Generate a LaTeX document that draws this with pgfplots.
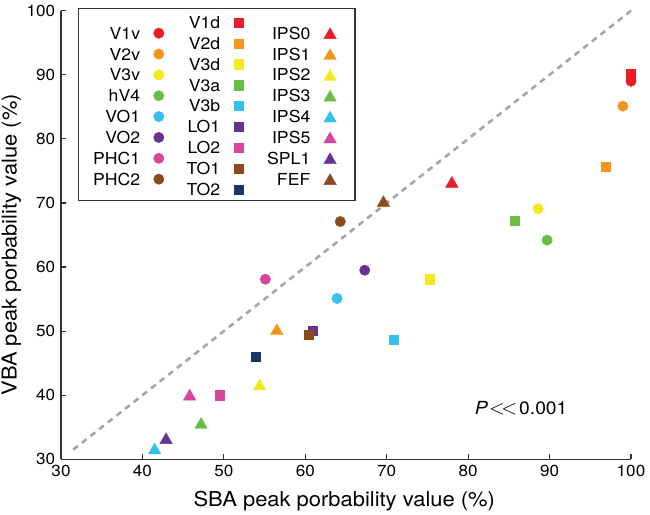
\documentclass[border=0pt]{standalone}
\usepackage{fontspec}
\setmainfont{TeX Gyre Heros}[FakeStretch=1.07]
\usepackage{pgfplots}
\pgfplotsset{compat=1.18}
\definecolor{cRed}{HTML}{EC1C24}
\definecolor{cOrange}{HTML}{F7941D}
\definecolor{cYellow}{HTML}{F2EA1F}
\definecolor{cGreen}{HTML}{6CBD45}
\definecolor{cCyan}{HTML}{33C1EE}
\definecolor{cPurple}{HTML}{673292}
\definecolor{cPink}{HTML}{D7469C}
\definecolor{cBrown}{HTML}{8B4A1C}
\definecolor{cNavy}{HTML}{1B3767}
\definecolor{cGrayLine}{HTML}{A6A6A6}
\definecolor{cAxis}{HTML}{333333}
\pgfplotsset{
  base/.style={scale only axis, width=570pt, height=448.6pt,
    xmin=30, xmax=100, ymin=30, ymax=100, clip=false,
    at={(0,0)}, anchor=south west},
  leg/.style={legend plot pos=right, legend cell align=right,
    legend style={draw=none, fill=none, inner sep=0pt, outer sep=0pt,
      font=\fontsize{16.5}{16.5}\selectfont, row sep=8.85pt, column sep=13.5pt,
      nodes={inner sep=0pt, outer sep=0pt, text height=12pt, text depth=0pt}}},
  circ/.style={only marks, mark=*, mark size=5.2pt, color=#1, mark options={draw=none, fill=#1}},
  sq/.style={only marks, mark=square*, mark size=4.6pt, color=#1, mark options={draw=none, fill=#1}},
  tri/.style={only marks, mark=triangle*, mark size=7.2pt, color=#1, mark options={draw=none, fill=#1}},
}
\begin{document}
\begin{tikzpicture}
\begin{axis}[base, name=ax, leg,
  axis lines*=left,
  axis line style={cAxis, line width=1.2pt},
  tick align=inside, major tick length=5pt,
  tick style={cAxis, line width=1.2pt},
  xtick={30,40,...,100}, ytick={30,40,...,100},
  /pgf/number format/assume math mode=true,
  xticklabel style={font=\fontsize{16}{16}\selectfont, yshift=-2pt},
  yticklabel style={font=\fontsize{16}{16}\selectfont, xshift=-2.4pt},
  xlabel={SBA peak porbability value (\%)},
  ylabel={VBA peak porbability value (\%)},
  xlabel style={font=\fontsize{20.5}{20.5}\selectfont, at={(axis description cs:0.497,0)}, anchor=base, yshift=-47.4pt},
  ylabel style={font=\fontsize{20.5}{20.5}\selectfont, at={(axis description cs:-0.0777,0.478)}, anchor=base},
  legend style={at={(rel axis cs:0.1807,0.9632)}, anchor=north east},
  legend image code/.code={\draw[#1] plot coordinates {(0pt,0pt)};},
]
\addplot[cGrayLine, line width=2.6pt, dash pattern=on 6pt off 5pt, forget plot] coordinates {(31.5,31.5) (100,100)};
\addplot[circ=cRed] coordinates {(100,89.0)}; \addlegendentry{V1v}
\addplot[circ=cOrange] coordinates {(99.0,85.1)}; \addlegendentry{V2v}
\addplot[circ=cYellow] coordinates {(88.6,69.1)}; \addlegendentry{V3v}
\addplot[circ=cGreen] coordinates {(89.7,64.2)}; \addlegendentry{hV4}
\addplot[circ=cCyan] coordinates {(63.9,55.1)}; \addlegendentry{VO1}
\addplot[circ=cPurple] coordinates {(67.3,59.5)}; \addlegendentry{VO2}
\addplot[circ=cPink] coordinates {(55.1,58.1)}; \addlegendentry{PHC1}
\addplot[circ=cBrown] coordinates {(64.3,67.1)}; \addlegendentry{PHC2}
\draw[cAxis, line width=1.2pt] (rel axis cs:0.0304,0.5765) rectangle (rel axis cs:0.5158,1.0053);
\node[anchor=base west, font=\fontsize{18}{18}\selectfont, text=black] at (axis cs:80.4,37.0) {\textit{P}\kern1pt{\fontsize{21}{21}\selectfont$<\!<$}\kern2pt0.001};
\end{axis}
\begin{axis}[base, hide axis, leg,
  legend style={at={(rel axis cs:0.3192,0.98685)}, anchor=north east},
  legend image code/.code={\draw[#1] plot coordinates {(0pt,0pt)};},
]
\addplot[sq=cRed] coordinates {(100,90.1)}; \addlegendentry{V1d}
\addplot[sq=cOrange] coordinates {(96.9,75.6)}; \addlegendentry{V2d}
\addplot[sq=cYellow] coordinates {(75.3,58.1)}; \addlegendentry{V3d}
\addplot[sq=cGreen] coordinates {(85.7,67.2)}; \addlegendentry{V3a}
\addplot[sq=cCyan] coordinates {(70.9,48.6)}; \addlegendentry{V3b}
\addplot[sq=cPurple] coordinates {(60.9,50.1)}; \addlegendentry{LO1}
\addplot[sq=cPink] coordinates {(49.5,40.0)}; \addlegendentry{LO2}
\addplot[sq=cBrown] coordinates {(60.4,49.5)}; \addlegendentry{TO1}
\addplot[sq=cNavy] coordinates {(53.9,46.0)}; \addlegendentry{TO2}
\end{axis}
\begin{axis}[base, hide axis, leg,
  legend style={at={(rel axis cs:0.483,0.9632)}, anchor=north east},
  legend image code/.code={\draw[#1] plot coordinates {(0pt,-1.8pt)};},
]
\addplot[tri=cRed] coordinates {(78.0,73.0)}; \addlegendentry{IPS0}
\addplot[tri=cOrange] coordinates {(56.5,50.0)}; \addlegendentry{IPS1}
\addplot[tri=cYellow] coordinates {(54.4,41.4)}; \addlegendentry{IPS2}
\addplot[tri=cGreen] coordinates {(47.2,35.4)}; \addlegendentry{IPS3}
\addplot[tri=cCyan] coordinates {(41.5,31.4)}; \addlegendentry{IPS4}
\addplot[tri=cPink] coordinates {(45.8,39.8)}; \addlegendentry{IPS5}
\addplot[tri=cPurple] coordinates {(42.9,33.0)}; \addlegendentry{SPL1}
\addplot[tri=cBrown] coordinates {(69.6,70.0)}; \addlegendentry{FEF}
\end{axis}
\pgfresetboundingbox
\path ([xshift=-61pt,yshift=-55.7pt]ax.south west) rectangle ([xshift=19pt,yshift=10.7pt]ax.north east);
\end{tikzpicture}
\end{document}
